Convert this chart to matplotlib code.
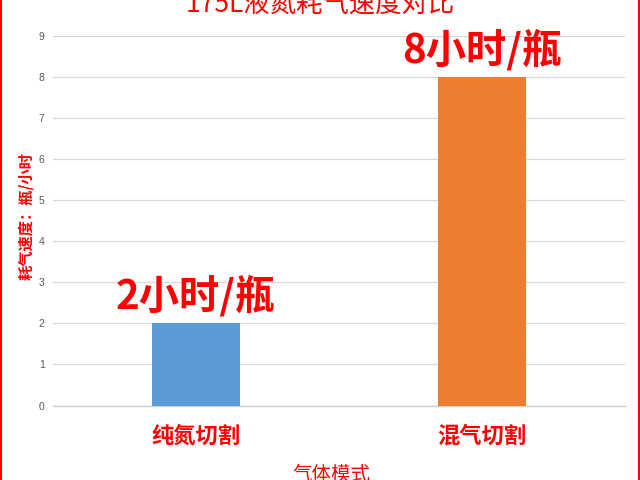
import matplotlib
matplotlib.use("Agg")
import matplotlib.pyplot as plt
from matplotlib.lines import Line2D

plt.rcParams['font.family'] = ['Noto Sans CJK SC', 'DejaVu Sans']

title = "175L液氮耗气速度对比"
categories = ["纯氮切割", "混气切割"]
values = [2, 8]
labels = ["2小时/瓶", "8小时/瓶"]
colors = ["#5B9BD5", "#ED7D31"]
yticks = [0, 1, 2, 3, 4, 5, 6, 7, 8, 9]
xlabel = "气体模式"
ylabel = "耗气速度：瓶/小时"

fig = plt.figure(figsize=(6.4, 4.8), dpi=100)
ax = fig.add_axes([53/640, 1-405.5/480, (625-53)/640, (405.5-36)/480])

x = list(range(len(categories)))
ax.bar(x, values, width=0.31, color=colors, zorder=3)
ax.set_xlim(-0.5, len(categories)-0.5)
ax.set_ylim(0, 9)
ax.set_yticks(yticks)
ax.set_yticklabels([str(t) for t in yticks], family=['Liberation Sans'], fontsize=7.5, color='#595959')
ax.tick_params(axis='y', length=0, pad=6)
ax.tick_params(axis='x', length=0, pad=14)
ax.set_xticks(x)
ax.set_xticklabels(categories, fontsize=16, fontweight='bold', color='red')
ax.grid(axis='y', color='#D9D9D9', linewidth=0.9, zorder=0)
for s in ['top', 'right', 'left']:
    ax.spines[s].set_visible(False)
ax.spines['bottom'].set_color('#D0D0D0')
ax.spines['bottom'].set_linewidth(1.0)

for xi, v, lab in zip(x, values, labels):
    ax.annotate(lab, (xi, v), xytext=(0, 4), textcoords='offset points',
                ha='center', va='bottom', fontsize=29, fontweight='bold', color='red')

fig.text(320/640, 1-5/480, title, ha='center', va='center', fontsize=19, color='red')
fig.text(331/640, 1-474/480, xlabel, ha='center', va='center', fontsize=14, color='red')
fig.text(26/640, 1-216/480, ylabel, ha='center', va='center', rotation=90,
         fontsize=11, fontweight='bold', color='red')

fig.add_artist(Line2D([0.5/640, 0.5/640], [0, 1], color='red', linewidth=1.5, transform=fig.transFigure))
fig.add_artist(Line2D([639/640, 639/640], [0, 1], color='red', linewidth=1.5, transform=fig.transFigure))

fig.savefig("out.png", dpi=100)
